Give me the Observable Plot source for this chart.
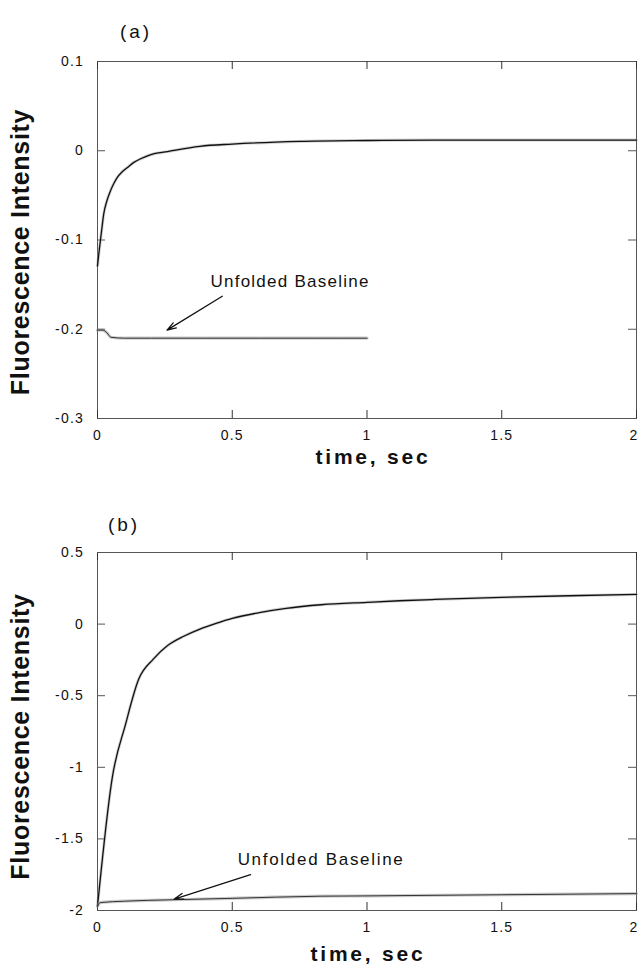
<!DOCTYPE html>
<html><head><meta charset="utf-8">
<script src="https://cdn.jsdelivr.net/npm/d3@7"></script>
<script src="https://cdn.jsdelivr.net/npm/@observablehq/plot@0.6"></script>
<style>
body{margin:0;background:#fff;width:639px;}
#chart svg{display:block;}
</style></head><body><div id="chart"></div>
<script>
// ---- data ----
const timeA    = [0, 0.005, 0.011, 0.017, 0.023, 0.035, 0.048, 0.06, 0.073, 0.09, 0.11, 0.135, 0.16, 0.196, 0.26, 0.38, 0.5, 0.75, 1.0, 1.25, 1.5, 1.75, 2.0];
const foldedA  = [-0.129, -0.115, -0.100, -0.085, -0.071, -0.056, -0.045, -0.037, -0.030, -0.024, -0.019, -0.013, -0.009, -0.0045, -0.001, 0.005, 0.0075, 0.0105, 0.0115, 0.012, 0.012, 0.012, 0.012];
const baseTimeA = [0, 0.02, 0.035, 0.05, 0.1, 0.2, 0.4, 0.6, 0.8, 1.0];
const baselineA = [-0.201, -0.201, -0.204, -0.209, -0.210, -0.210, -0.210, -0.210, -0.210, -0.210];

const timeB    = [0, 0.055, 0.104, 0.153, 0.207, 0.26, 0.32, 0.38, 0.44, 0.5, 0.6, 0.7, 0.83, 1.0, 1.12, 1.25, 1.5, 1.75, 2.0];
const foldedB  = [-1.97, -1.07, -0.70, -0.384, -0.245, -0.15, -0.085, -0.035, 0.005, 0.04, 0.08, 0.11, 0.135, 0.152, 0.163, 0.172, 0.187, 0.198, 0.207];
const baseTimeB = [0, 0.01, 0.1, 0.28, 0.5, 0.83, 1.0, 1.5, 2.0];
const baselineB = [-1.97, -1.945, -1.935, -1.925, -1.915, -1.90, -1.898, -1.89, -1.882];

const xTicks  = [0, 0.5, 1, 1.5, 2];
const yTicksA = [-0.3, -0.2, -0.1, 0, 0.1];
const yTicksB = [-2, -1.5, -1, -0.5, 0, 0.5];
const panelLabels = ["(a)", "(b)"];
const yTitle = "Fluorescence Intensity";
const xTitle = "time, sec";
const noteText = "Unfolded Baseline";
// annotation anchors in data units
const noteA  = {t: 0.419, v: -0.146};
const arrowA = {t1: 0.463, v1: -0.163, t2: 0.258, v2: -0.201};
const noteB  = {t: 0.52, v: -1.646};
const arrowB = {t1: 0.568, v1: -1.75, t2: 0.285, v2: -1.92};

const FONT = "'Liberation Sans', Arial, Helvetica, sans-serif";
const W = 639, ML = 97, MR = 3;

function panel(cfg) {
  const main = cfg.time.map((t, i) => ({t, v: cfg.folded[i]}));
  const base = cfg.baseTime.map((t, i) => ({t, v: cfg.baseline[i]}));
  const fh = cfg.height - cfg.mt - cfg.mb, fw = W - ML - MR;
  const svg = Plot.plot({
    width: W, height: cfg.height,
    marginLeft: ML, marginRight: MR, marginTop: cfg.mt, marginBottom: cfg.mb,
    style: {fontFamily: FONT, fontSize: "14px", background: "white", color: "#111", overflow: "visible"},
    x: {domain: [0, 2]},
    y: {domain: cfg.yDomain},
    marks: [
      Plot.frame({stroke: "#555", strokeWidth: 1}),
      // inward ticks
      Plot.ruleX(xTicks, {x: d => d, insetTop: fh - 8, stroke: "#333"}),
      Plot.ruleX(xTicks, {x: d => d, insetBottom: fh - 8, stroke: "#333"}),
      Plot.ruleY(cfg.yTicks, {y: d => d, insetRight: fw - 8, stroke: "#555"}),
      Plot.ruleY(cfg.yTicks, {y: d => d, insetLeft: fw - 8, stroke: "#555"}),
      Plot.axisX(xTicks, {anchor: "bottom", tickSize: 0, tickPadding: 12, tickFormat: d => String(d), label: null, fontSize: 14}),
      Plot.axisY(cfg.yTicks, {anchor: "left", tickSize: 0, tickPadding: 13.5, tickFormat: d => String(d), label: null, fontSize: 14}),
      // noisy-looking traces
      Plot.line(main, {x: "t", y: "v", curve: "monotone-x", stroke: "#999", strokeWidth: 3, strokeOpacity: 0.45}),
      Plot.line(main, {x: "t", y: "v", curve: "monotone-x", stroke: "#111", strokeWidth: 1.3}),
      Plot.line(base, {x: "t", y: "v", curve: "monotone-x", stroke: "#999", strokeWidth: 3.2, strokeOpacity: 0.5}),
      Plot.line(base, {x: "t", y: "v", curve: "monotone-x", stroke: "#333", strokeWidth: 1}),
      // annotation
      Plot.text([noteText], {x: cfg.note.t, y: cfg.note.v, text: d => d, textAnchor: "start", fontSize: 17, fill: "#111"}),
      Plot.arrow([cfg.arrow], {x1: "t1", y1: "v1", x2: "t2", y2: "v2", stroke: "#111", strokeWidth: 1.3, headLength: 11, headAngle: 36}),
      // labels
      Plot.text([cfg.label], {frameAnchor: "top-left", dx: cfg.labelDx, dy: cfg.labelDy, text: d => d, fontSize: 19, textAnchor: "middle"}),
      Plot.text([yTitle], {frameAnchor: "left", dx: -77, dy: cfg.ytDy, rotate: -90, text: d => d, fontSize: 25, fontWeight: "bold", textAnchor: "middle"}),
      Plot.text([xTitle], {frameAnchor: "bottom", dx: cfg.xtDx, dy: cfg.xtDy, text: d => d, fontSize: 21, fontWeight: "bold", textAnchor: "middle"})
    ]
  });
  // letter spacing like the original typesetting
  d3.select(svg).selectAll("text").each(function () {
    const s = this.textContent;
    let ls = "1.2px";
    if (s === yTitle) ls = "0.7px";
    else if (s === xTitle) ls = "2.8px";
    else if (s === noteText) ls = cfg.noteLs;
    else if (panelLabels.includes(s)) ls = "3px";
    else if (s === String(xTicks[xTicks.length - 1])) { ls = "0px"; this.setAttribute("dx", "-3"); }
    this.style.letterSpacing = ls;
  });
  return svg;
}

const root = document.getElementById("chart");
root.append(panel({
  time: timeA, folded: foldedA, baseTime: baseTimeA, baseline: baselineA,
  yDomain: [-0.3, 0.1], yTicks: yTicksA, height: 485, mt: 61, mb: 67,
  note: noteA, arrow: arrowA, noteLs: "1.25px",
  label: panelLabels[0], labelDx: 38.5, labelDy: -37, ytDy: 12, xtDx: 6, xtDy: 45
}));
root.append(panel({
  time: timeB, folded: foldedB, baseTime: baseTimeB, baseline: baselineB,
  yDomain: [-2, 0.5], yTicks: yTicksB, height: 486, mt: 67, mb: 61,
  note: noteB, arrow: arrowB, noteLs: "1.7px",
  label: panelLabels[1], labelDx: 26.5, labelDy: -35, ytDy: 5, xtDx: 1, xtDy: 50
}));
</script></body></html>
